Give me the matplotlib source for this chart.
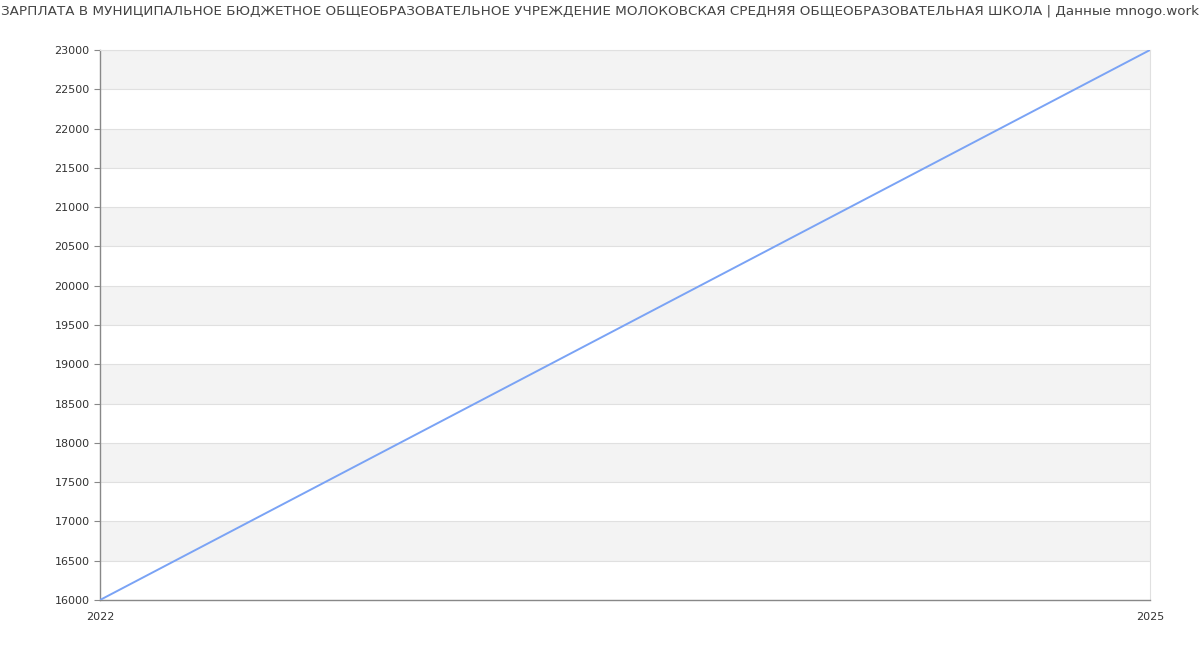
import matplotlib
matplotlib.use("Agg")
import matplotlib.pyplot as plt

years = [2022, 2025]
salary = [16000, 23000]
y_ticks = list(range(16000, 23001, 500))
title = ("ЗАРПЛАТА В МУНИЦИПАЛЬНОЕ БЮДЖЕТНОЕ ОБЩЕОБРАЗОВАТЕЛЬНОЕ УЧРЕЖДЕНИЕ "
         "МОЛОКОВСКАЯ СРЕДНЯЯ ОБЩЕОБРАЗОВАТЕЛЬНАЯ ШКОЛА | Данные mnogo.work")

fig = plt.figure(figsize=(12, 6.5), dpi=100)
ax = fig.add_axes([100 / 1200, 1 - 600 / 650, 1050 / 1200, 550 / 650])

# alternating bands, gray on top
for i in range(len(y_ticks) - 1):
    if (len(y_ticks) - 2 - i) % 2 == 0:
        ax.axhspan(y_ticks[i], y_ticks[i + 1], color="#f3f3f3", zorder=0, lw=0)
for t in y_ticks:
    ax.axhline(t, color="#e0e0e0", lw=0.8, zorder=1)

ax.plot(years, salary, color="#7aa3f5", lw=1.4, zorder=3)

ax.set_xlim(years[0], years[-1])
ax.set_ylim(y_ticks[0], y_ticks[-1])
ax.set_yticks(y_ticks)
ax.set_xticks(years)
ax.tick_params(axis="y", labelsize=8, colors="#333333", length=4, width=0.8)
ax.tick_params(axis="y", color="#888888")
ax.tick_params(axis="x", labelsize=8, labelcolor="#333333", length=0, pad=9)

for s in ["left", "bottom"]:
    ax.spines[s].set_color("#888888")
    ax.spines[s].set_linewidth(1)
for s in ["top", "right"]:
    ax.spines[s].set_color("#e0e0e0")
    ax.spines[s].set_linewidth(0.8)

fig.text(0.5, 1 - 12 / 650, title, ha="center", va="center", fontsize=9.7, color="#444444")

fig.savefig("out.png", dpi=100)
